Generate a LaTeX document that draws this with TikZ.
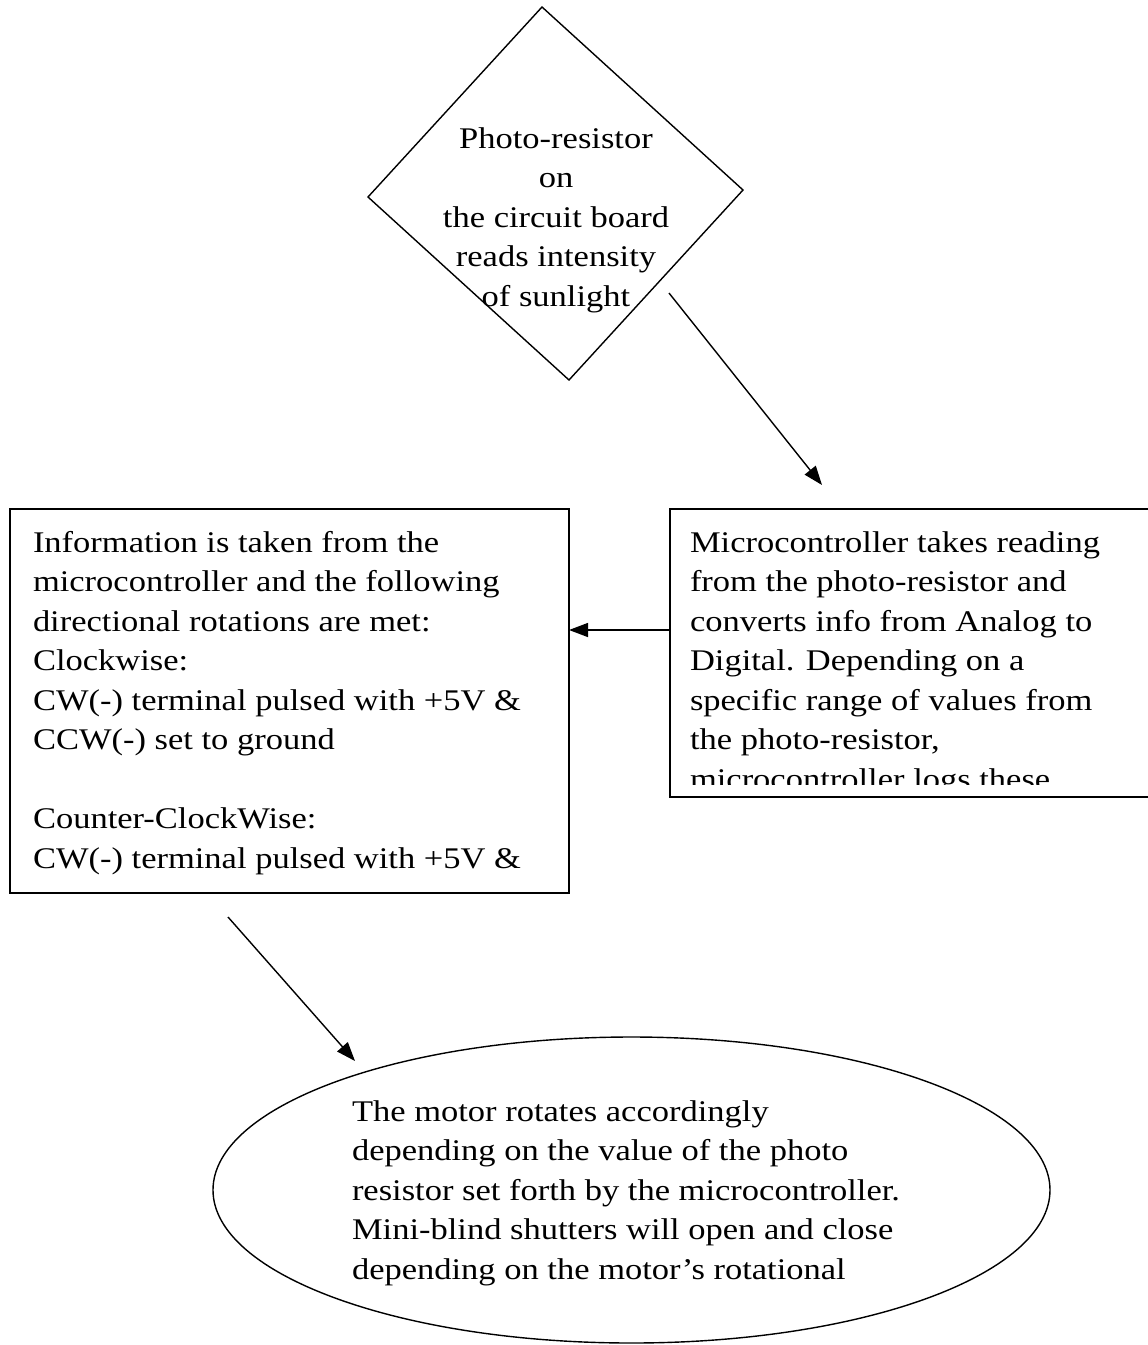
\documentclass[tikz,border=0pt]{standalone}
\usepackage{fontspec}
\setmainfont{Liberation Serif}[FakeStretch=1.15]
\usetikzlibrary{arrows.meta,shapes.geometric}
\newcommand\leftlines[1]{\vtop{\halign{##\hfil\cr#1\crcr}}}
\newcommand\centerlines[1]{\vtop{\halign{\hfil##\hfil\cr#1\crcr}}}
\begin{document}
\begin{tikzpicture}[x=1pt,y=-1pt,
  every node/.style={inner sep=0pt,outer sep=0pt},
  txt/.style={font=\fontsize{30}{39.5}\selectfont},
  frame/.style={draw,line width=1.8pt},
  thin/.style={draw,line width=1.4pt},
  conn/.style={line width=1.4pt,-{Triangle[length=19pt,width=14pt]}}]
\useasboundingbox (0,0) rectangle (1148,1345);
% diamond
\coordinate (d1) at (542,7);
\coordinate (d2) at (743,190);
\coordinate (d3) at (569,380);
\coordinate (d4) at (368,197);
\draw[thin] (d1) -- (d2) -- (d3) -- (d4) -- cycle;
\node[txt,anchor=base] (photo) at (556,148) {\centerlines{Photo-resistor\cr on\cr the circuit board\cr reads intensity\cr of sunlight}};
% boxes
\node[frame,minimum width=559.4pt,minimum height=384pt,anchor=north west] (info) at (9.6,509) {};
\node[frame,minimum width=490pt,minimum height=288pt,anchor=north west] (micro) at (670,509) {};
\node[txt,anchor=base west] (infotext) at (33,552) {\leftlines{Information is taken from the\cr microcontroller and the following\cr directional rotations are met:\cr Clockwise:\cr CW(-) terminal pulsed with +5V \&\cr CCW(-) set to ground\cr \cr Counter-ClockWise:\cr CW(-) terminal pulsed with +5V \&}};
\begin{scope}
\clip (670,509) rectangle (1160,784);
\node[txt,anchor=base west] (microtext) at (690,552) {\leftlines{Microcontroller takes reading\cr from the photo-resistor and\cr converts info from Analog to\cr Digital. Depending on a\cr specific range of values from\cr the photo-resistor,\cr microcontroller logs these}};
\end{scope}
% ellipse
\node[thin,ellipse,minimum width=837pt,minimum height=306pt] (motor) at (631.5,1190) {};
\node[txt,anchor=base west] (motortext) at (352,1121) {\leftlines{The motor rotates accordingly\cr depending on the value of the photo\cr resistor set forth by the microcontroller.\cr Mini-blind shutters will open and close\cr depending on the motor’s rotational}};
% connectors
\coordinate (a1s) at (669,293);
\coordinate (a1e) at (822,485);
\draw[conn] (a1s) -- (a1e);
\coordinate (a2) at (670,630);
\draw[conn] (a2) -- (info.east |- a2);
\coordinate (a3s) at (228,917);
\coordinate (a3e) at (355,1061);
\draw[conn] (a3s) -- (a3e);
\end{tikzpicture}
\end{document}
